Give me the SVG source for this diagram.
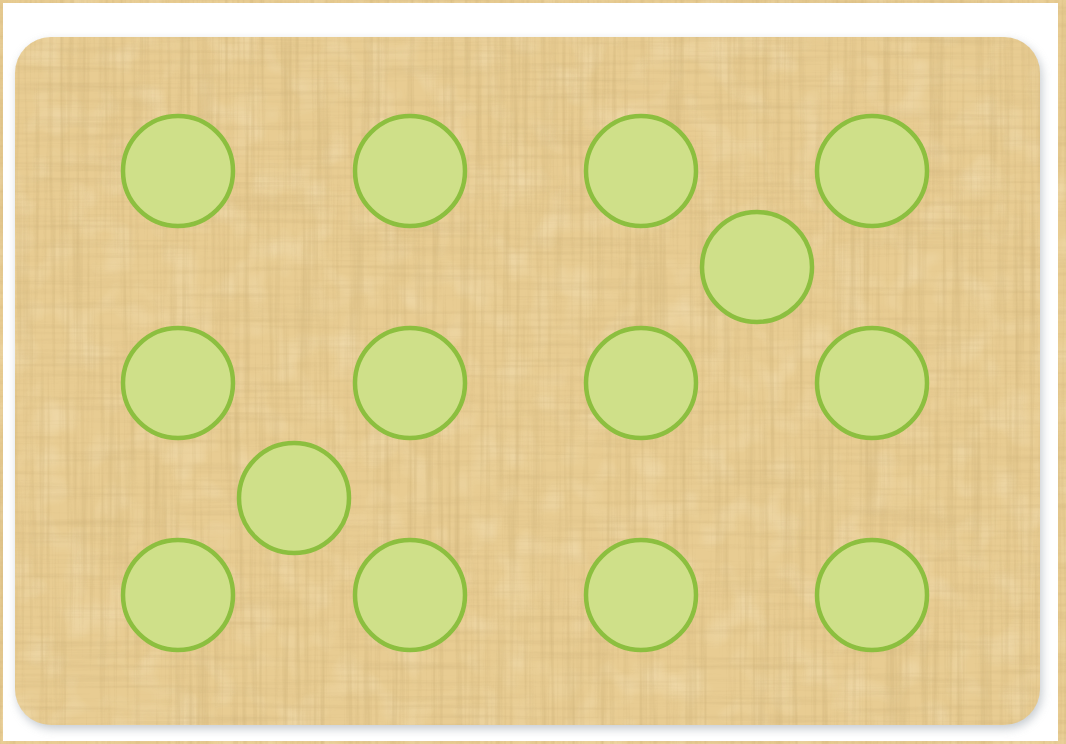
<svg xmlns="http://www.w3.org/2000/svg" width="1066" height="744" viewBox="0 0 1066 744">
  <defs>
    <style>
      .node circle { fill: #cfe089; stroke: #8cbf3f; stroke-width: 4.5; }
    </style>
    <filter id="fibH" x="0" y="0" width="100%" height="100%">
      <feTurbulence type="fractalNoise" baseFrequency="0.006 0.2" numOctaves="3" seed="3" result="n"/>
      <feColorMatrix in="n" type="matrix" values="0 0 0 0 0.62  0 0 0 0 0.45  0 0 0 0 0.2  0 0 0 1.6 -0.75"/>
    </filter>
    <filter id="fibV" x="0" y="0" width="100%" height="100%">
      <feTurbulence type="fractalNoise" baseFrequency="0.2 0.005" numOctaves="3" seed="8" result="n"/>
      <feColorMatrix in="n" type="matrix" values="0 0 0 0 0.6  0 0 0 0 0.43  0 0 0 0 0.18  0 0 0 1.7 -0.75"/>
    </filter>
    <filter id="light" x="0" y="0" width="100%" height="100%">
      <feTurbulence type="fractalNoise" baseFrequency="0.03 0.03" numOctaves="2" seed="5" result="n"/>
      <feColorMatrix in="n" type="matrix" values="0 0 0 0 1  0 0 0 0 0.93  0 0 0 0 0.75  0 0 0 1.0 -0.45"/>
    </filter>
    <filter id="shadow" x="-5%" y="-5%" width="110%" height="110%">
      <feGaussianBlur stdDeviation="5"/>
    </filter>
    <clipPath id="card">
      <rect x="15" y="37" width="1025" height="688" rx="36" ry="36"/>
    </clipPath>
    <g id="paper">
      <rect x="0" y="0" width="1066" height="744" fill="#e8cc92"/>
      <rect x="0" y="0" width="1066" height="744" filter="url(#light)" opacity="0.6"/>
      <rect x="0" y="0" width="1066" height="744" filter="url(#fibH)" opacity="0.5"/>
      <rect x="0" y="0" width="1066" height="744" filter="url(#fibV)" opacity="0.6"/>
    </g>
  </defs>

  <g id="background">
    <use href="#paper"/>
    <rect x="3" y="3" width="1055" height="738" fill="#ffffff"/>
    <rect x="17" y="41" width="1025" height="688" rx="36" ry="36" fill="#aeb6bd" opacity="0.7" filter="url(#shadow)"/>
    <g clip-path="url(#card)">
      <use href="#paper"/>
    </g>
  </g>

  <g id="connectors"/>

  <g id="n1" class="node"><circle cx="178" cy="171" r="55"/></g>
  <g id="n2" class="node"><circle cx="410" cy="171" r="55"/></g>
  <g id="n3" class="node"><circle cx="641" cy="171" r="55"/></g>
  <g id="n4" class="node"><circle cx="872" cy="171" r="55"/></g>
  <g id="n5" class="node"><circle cx="757" cy="267" r="55"/></g>
  <g id="n6" class="node"><circle cx="178" cy="383" r="55"/></g>
  <g id="n7" class="node"><circle cx="410" cy="383" r="55"/></g>
  <g id="n8" class="node"><circle cx="641" cy="383" r="55"/></g>
  <g id="n9" class="node"><circle cx="872" cy="383" r="55"/></g>
  <g id="n10" class="node"><circle cx="294" cy="498" r="55"/></g>
  <g id="n11" class="node"><circle cx="178" cy="595" r="55"/></g>
  <g id="n12" class="node"><circle cx="410" cy="595" r="55"/></g>
  <g id="n13" class="node"><circle cx="641" cy="595" r="55"/></g>
  <g id="n14" class="node"><circle cx="872" cy="595" r="55"/></g>
</svg>
